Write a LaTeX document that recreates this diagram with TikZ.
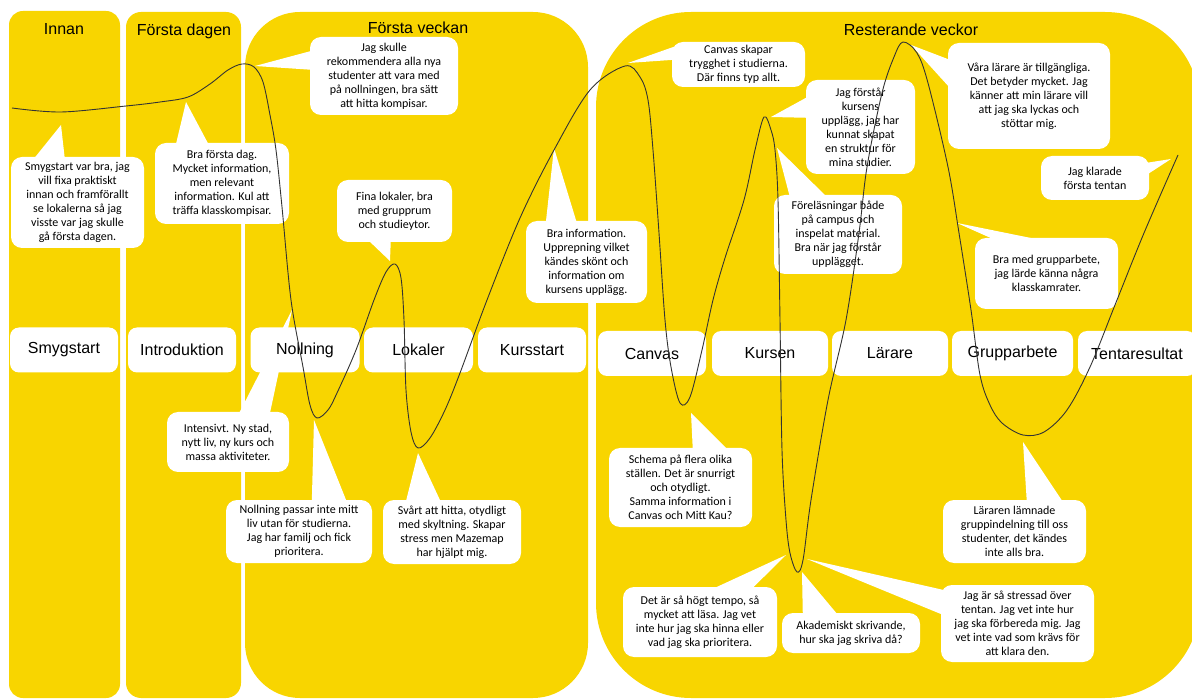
\documentclass[tikz,border=0pt]{standalone}
\usepackage{fontspec}
\usepackage{tikz}
\usetikzlibrary{calc}
\newfontfamily\headfont{Liberation Sans}
\newfontfamily\notefont{Carlito}
\definecolor{journeyyellow}{HTML}{F8D500}
\definecolor{curvegray}{HTML}{333333}
\tikzstyle{phase} = [fill=journeyyellow]
\tikzstyle{phasetitle} = [font=\headfont\fontsize{16}{18}\selectfont]
\tikzstyle{touchpoint} = [fill=white,rounded corners=9pt,inner sep=0pt,minimum height=45pt,font=\headfont\fontsize{16}{18}\selectfont]
\tikzstyle{note} = [fill=white,rounded corners=11pt,inner sep=0pt,align=center,font=\notefont\fontsize{12}{14}\selectfont]
\tikzstyle{tail} = [fill=white]

\begin{document}
\begin{tikzpicture}[x=1pt,y=-1pt]
	\useasboundingbox (0,0) rectangle (1192,700);
	
	% Phases:
	% yellow columns in the back, one per phase of the first term
	\fill[phase,rounded corners=14pt] (9,11) rectangle (120,698);
	\fill[phase,rounded corners=15pt] (126,12) rectangle (241,698);
	\fill[phase,rounded corners=55pt] (245,12) rectangle (588,698);
	\fill[phase,rounded corners=95pt] (596,12) rectangle (1200,698);
	
	\node[phasetitle] (innan) at (64,29) {Innan};
	\node[phasetitle] (dagen) at (184,31) {Första dagen};
	\node[phasetitle] (veckan) at (418,28) {Första veckan};
	\node[phasetitle] (resten) at (911,30) {Resterande veckor};
	
	% Quotes:
	% white boxes, the tails are filled first so the boxes sit on top
	\node[note,minimum width=133pt,minimum height=91pt] (smygnote) at (77.5,202.5) {Smygstart var bra, jag\\vill fixa praktiskt\\innan och framförallt\\se lokalerna så jag\\visste var jag skulle\\gå första dagen.};
	\node[note,minimum width=134pt,minimum height=81pt] (dagnote) at (222,183.5) {Bra första dag.\\Mycket information,\\men relevant\\information. Kul att\\träffa klasskompisar.};
	\node[note,minimum width=148pt,minimum height=78pt] (nollnote) at (384,76) {Jag skulle\\rekommendera alla nya\\studenter att vara med\\på nollningen, bra sätt\\att hitta kompisar.};
	\node[note,minimum width=115pt,minimum height=62pt] (lokalnote) at (394.5,211) {Fina lokaler, bra\\med grupprum\\och studieytor.};
	\node[note,minimum width=121pt,minimum height=82pt] (kursnote) at (586.5,262) {Bra information.\\Upprepning vilket\\kändes skönt och\\information om\\kursens upplägg.};
	\node[note,minimum width=133pt,minimum height=45pt] (canvasnote) at (738.5,64.5) {Canvas skapar\\trygghet i studierna.\\Där finns typ allt.};
	\node[note,minimum width=109pt,minimum height=94pt] (strukturnote) at (860.5,127) {Jag förstår\\kursens\\upplägg, jag har\\kunnat skapat\\en struktur för\\mina studier.};
	\node[note,minimum width=128pt,minimum height=79pt] (forelnote) at (838,234.5) {Föreläsningar både\\på campus och\\inspelat material.\\Bra när jag förstår\\upplägget.};
	\node[note,minimum width=162pt,minimum height=106pt] (lararnote) at (1029,96) {Våra lärare är tillgängliga.\\Det betyder mycket. Jag\\känner att min lärare vill\\att jag ska lyckas och\\stöttar mig.};
	\node[note,minimum width=108pt,minimum height=44pt] (tentanote) at (1095,178) {Jag klarade\\första tentan};
	\node[note,minimum width=143pt,minimum height=71pt] (gruppnote) at (1046.5,273.5) {Bra med grupparbete,\\jag lärde känna några\\klasskamrater.};
	\node[note,minimum width=122pt,minimum height=60pt] (intensivnote) at (228,442) {Intensivt. Ny stad,\\nytt liv, ny kurs och\\massa aktiviteter.};
	\node[note,minimum width=146pt,minimum height=63pt] (familjnote) at (299,531.5) {Nollning passar inte mitt\\liv utan för studierna.\\Jag har familj och fick\\prioritera.};
	\node[note,minimum width=138pt,minimum height=64pt] (skyltnote) at (452,532) {Svårt att hitta, otydligt\\med skyltning. Skapar\\stress men Mazemap\\har hjälpt mig.};
	\node[note,minimum width=143pt,minimum height=79pt] (schemanote) at (680.5,487.5) {Schema på flera olika\\ställen. Det är snurrigt\\och otydligt.\\Samma information i\\Canvas och Mitt Kau?};
	\node[note,minimum width=154pt,minimum height=70pt] (temponote) at (700,622) {Det är så högt tempo, så\\mycket att läsa. Jag vet\\inte hur jag ska hinna eller\\vad jag ska prioritera.};
	\node[note,minimum width=138pt,minimum height=40pt] (akademnote) at (851,633) {Akademiskt skrivande,\\hur ska jag skriva då?};
	\node[note,minimum width=153pt,minimum height=77pt] (stressnote) at (1017.5,623.5) {Jag är så stressad över\\tentan. Jag vet inte hur\\jag ska förbereda mig. Jag\\vet inte vad som krävs för\\att klara den.};
	\node[note,minimum width=143pt,minimum height=63pt] (gruppindnote) at (1014.5,531.5) {Läraren lämnade\\gruppindelning till oss\\studenter, det kändes\\inte alls bra.};
	
	% tails towards the curve
	\fill[tail] ($(smygnote.north west)+(23,2)$) -- (61,125) -- ($(smygnote.north west)+(54,2)$) -- cycle;
	\fill[tail] ($(dagnote.north west)+(21,2)$) -- (186,102) -- ($(dagnote.north west)+(54,2)$) -- cycle;
	\fill[tail] ($(nollnote.north west)+(2,14)$) -- (255,66) -- ($(nollnote.north west)+(2,33)$) -- cycle;
	\fill[tail] ($(lokalnote.north west)+(31,60)$) -- (390,261) -- ($(lokalnote.north west)+(54,60)$) -- cycle;
	\fill[tail] ($(kursnote.north west)+(20,2)$) -- (554,148) -- ($(kursnote.north west)+(51,2)$) -- cycle;
	\fill[tail] ($(canvasnote.north west)+(2,5)$) -- (628,63) -- ($(canvasnote.north west)+(2,18)$) -- cycle;
	\fill[tail] ($(strukturnote.north west)+(2,17)$) -- (771,117) -- ($(strukturnote.north west)+(2,38)$) -- cycle;
	\fill[tail] ($(forelnote.north west)+(16,2)$) -- (777,148) -- ($(forelnote.north west)+(53,2)$) -- cycle;
	\fill[tail] ($(lararnote.north west)+(2,17)$) -- (911,45) -- ($(lararnote.north west)+(2,45)$) -- cycle;
	\fill[tail] ($(tentanote.north west)+(106,7)$) -- (1171,159) -- ($(tentanote.north west)+(106,19)$) -- cycle;
	\fill[tail] ($(gruppnote.north west)+(20,2)$) -- (957,223) -- ($(gruppnote.north west)+(65,2)$) -- cycle;
	\fill[tail] ($(intensivnote.north west)+(72,2)$) -- (292,310) -- ($(intensivnote.north west)+(103,2)$) -- cycle;
	\fill[tail] ($(familjnote.north west)+(86,2)$) -- (314,420) -- ($(familjnote.north west)+(121,2)$) -- cycle;
	\fill[tail] ($(skyltnote.north west)+(23,2)$) -- (418,453) -- ($(skyltnote.north west)+(58,2)$) -- cycle;
	\fill[tail] ($(schemanote.north west)+(84,2)$) -- (691,413) -- ($(schemanote.north west)+(119,2)$) -- cycle;
	\fill[tail] ($(temponote.north west)+(90,2)$) -- (786,555) -- ($(temponote.north west)+(129,2)$) -- cycle;
	\fill[tail] ($(akademnote.north west)+(21,2)$) -- (802,572) -- ($(akademnote.north west)+(56,2)$) -- cycle;
	\fill[tail] ($(stressnote.north west)+(2,5)$) -- (807,559) -- ($(stressnote.north west)+(2,30)$) -- cycle;
	\fill[tail] ($(gruppindnote.north west)+(84,2)$) -- (1023,442) -- ($(gruppindnote.north west)+(120,2)$) -- cycle;
	
	% Touchpoints:
	\node[touchpoint,minimum width=108pt] (smygstart) at (64,350) {Smygstart};
	\node[touchpoint,minimum width=108pt] (intro) at (182,350) {Introduktion};
	\node[touchpoint,minimum width=109pt] (nollning) at (305,350) {Nollning};
	\node[touchpoint,minimum width=109pt] (lokaler) at (418.5,350) {Lokaler};
	\node[touchpoint,minimum width=108pt] (kursstart) at (532,350) {Kursstart};
	\node[touchpoint,minimum width=108pt] (canvas) at (652,353.5) {Canvas};
	\node[touchpoint,minimum width=116pt] (kursen) at (770,353.5) {Kursen};
	\node[touchpoint,minimum width=116pt] (larare) at (890,353.5) {Lärare};
	\node[touchpoint,minimum width=121pt] (grupp) at (1012.5,353.5) {Grupparbete};
	\node[touchpoint,minimum width=118pt] (tenta) at (1137,353.5) {Tentaresultat};
	
	% Journey:
	% one smooth line through the highs and lows
	\draw[curvegray,line width=0.9pt] plot[smooth,tension=0.55] coordinates {
		(12,108) (61,112) (126,106) (160,102) (188,97) (210,84) (228,70) (242,64) (254,67) (263,82)
		(270,115) (276,150) (282,207) (291,300) (303,367) (310,405) (317,418) (328,410) (337,393) (356,350)
		(374,300) (386,272) (395,264) (401,278) (404,320) (406,390) (411,432) (418,448) (430,438) (445,410)
		(460,373) (487,300) (520,218) (554,150) (590,90) (625,66) (640,77) (648,100) (653,150) (659,233)
		(665,320) (671,367) (680,403) (690,397) (702,350) (713,300) (725,258) (744,200) (755,150) (764,117)
		(771,130) (775,150) (778,200) (780,320) (782,450) (786,520) (790,553) (797,572) (803,560) (811,500)
		(828,400) (846,320) (859,233) (867,167) (882,93) (894,57) (903,42) (917,53) (928,83) (948,167)
		(959,233) (971,310) (980,375) (990,405) (1002,423) (1023,435) (1044,432) (1067,410) (1090,367) (1115,305)
		(1144,233) (1178,155)};
	
\end{tikzpicture}
\end{document}
